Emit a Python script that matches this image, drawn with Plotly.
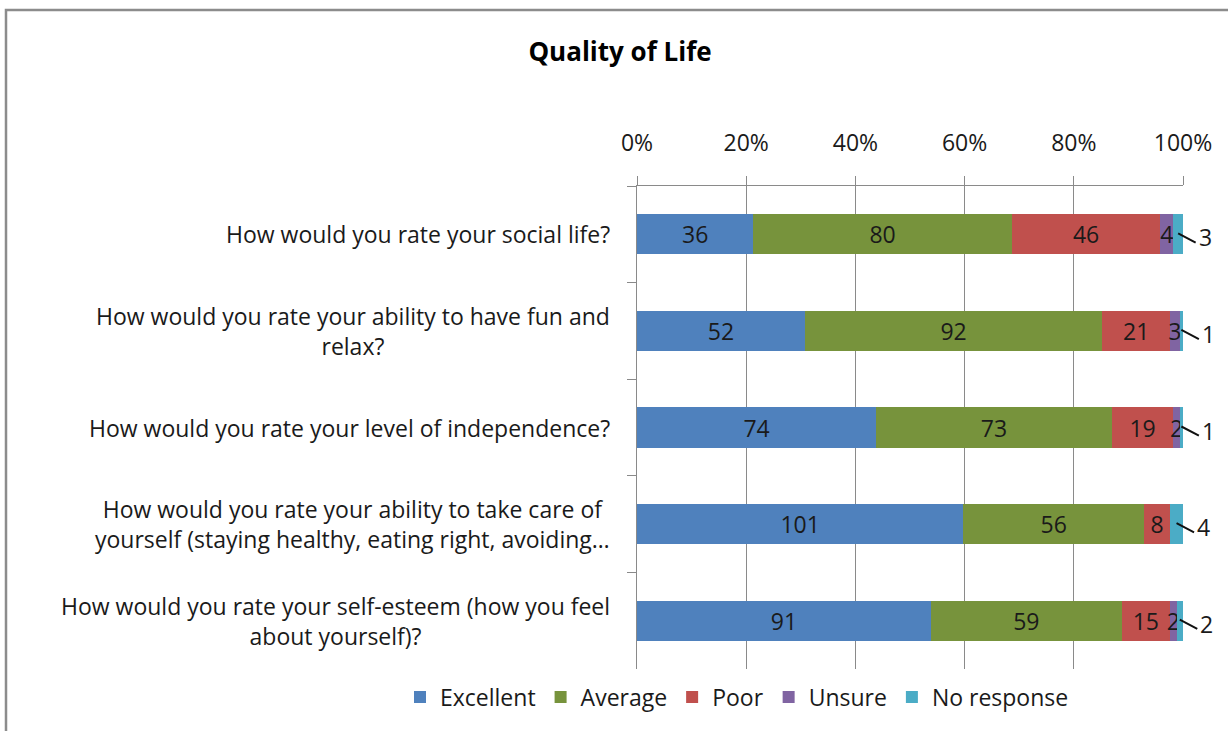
import plotly.graph_objects as go

questions = [
    "How would you rate your social life?",
    "How would you rate your ability to have fun and<br>relax?",
    "How would you rate your level of independence?",
    "How would you rate your ability to take care of<br>yourself (staying healthy, eating right, avoiding…",
    "How would you rate your self-esteem (how you feel<br>about yourself)?",
]
excellent = [36, 52, 74, 101, 91]
average = [80, 92, 73, 56, 59]
poor = [46, 21, 19, 8, 15]
unsure = [4, 3, 2, 0, 2]
no_response = [3, 1, 1, 4, 2]

series_names = ["Excellent", "Average", "Poor", "Unsure", "No response"]
series_values = [excellent, average, poor, unsure, no_response]
colors = ["#4F81BD", "#77933C", "#C0504D", "#8064A2", "#4BACC6"]

FONT = "Open Sans"
TXT = "#1a1a1a"
GRID = "#8a8a8a"
FS = 23

fig = go.Figure()
for name, vals, col in zip(series_names, series_values, colors):
    if name == "No response":
        texts = ["" for v in vals]
    else:
        texts = [str(v) if v > 0 else "" for v in vals]
    fig.add_trace(go.Bar(
        y=questions, x=vals, name=name, orientation="h",
        marker=dict(color=col, line=dict(width=0)),
        text=texts, textposition="inside", insidetextanchor="middle",
        textfont=dict(family=FONT, size=FS, color=TXT),
        constraintext="none", cliponaxis=False,
    ))

# leader-line labels for the small "No response" segments
for q, vals in zip(questions, zip(*series_values)):
    total = sum(vals)
    start = 100.0 * sum(vals[:-1]) / total
    mid = (start + 100.0) / 2
    # leader line
    fig.add_annotation(
        x=mid, y=q, xref="x", yref="y", text=" ", yshift=1,
        showarrow=True, arrowhead=0, arrowwidth=2, arrowcolor="#111",
        ax=19, ay=10, font=dict(size=1),
    )
    # label
    fig.add_annotation(
        x=mid, y=q, xref="x", yref="y", text=str(vals[-1]),
        showarrow=False, xshift=27, yshift=-3, xanchor="center", yanchor="middle",
        font=dict(family=FONT, size=FS, color=TXT),
    )

# category labels (centered multi-line blocks)
for q in questions:
    fig.add_annotation(
        x=(612 - 637) / 546, y=q, xref="paper", yref="y", text=q,
        showarrow=False, xanchor="right", yanchor="middle", align="center",
        font=dict(family=FONT, size=FS, color=TXT),
    )

# outer chart frame
fig.add_shape(type="rect", xref="paper", yref="paper",
              x0=(6 - 637) / 546, y0=-1.0, x1=2.0, y1=(669 - 10) / 483,
              line=dict(color="#8c8c8c", width=2.5), fillcolor="rgba(0,0,0,0)")

fig.update_layout(
    width=1228, height=731,
    barmode="stack", barnorm="percent", bargap=0.585,
    paper_bgcolor="white", plot_bgcolor="white",
    margin=dict(l=637, r=45, t=186, b=62),
    title=dict(text="<b>Quality of Life</b>", x=620 / 1228, xanchor="center",
               y=1 - 52 / 731, yanchor="middle",
               font=dict(family=FONT, size=26, color="#000")),
    font=dict(family=FONT, size=FS, color=TXT),
    uniformtext=dict(minsize=FS - 1, mode="show"),
    showlegend=True,
    legend=dict(orientation="h", x=(400 - 637) / 546, xanchor="left",
                y=(669 - 697) / 483, yanchor="middle",
                font=dict(family=FONT, size=FS, color=TXT),
                traceorder="normal", itemwidth=30, tracegroupgap=0),
    xaxis=dict(side="top", range=[0, 100], dtick=20, ticksuffix="%",
               showgrid=True, gridcolor=GRID, gridwidth=1,
               showline=True, linecolor=GRID, linewidth=1,
               ticks="outside", ticklen=9, tickcolor=GRID,
               ticklabelstandoff=16,
               tickfont=dict(family=FONT, size=FS, color=TXT),
               zeroline=False, fixedrange=True),
    yaxis=dict(autorange="reversed", showticklabels=False,
               showline=True, linecolor=GRID, linewidth=1,
               ticks="outside", ticklen=9, tickcolor=GRID,
               tickson="boundaries", showgrid=False, fixedrange=True),
)

fig.write_html("out.html", config={"displayModeBar": False},
               post_script="document.body.style.margin='0';")
